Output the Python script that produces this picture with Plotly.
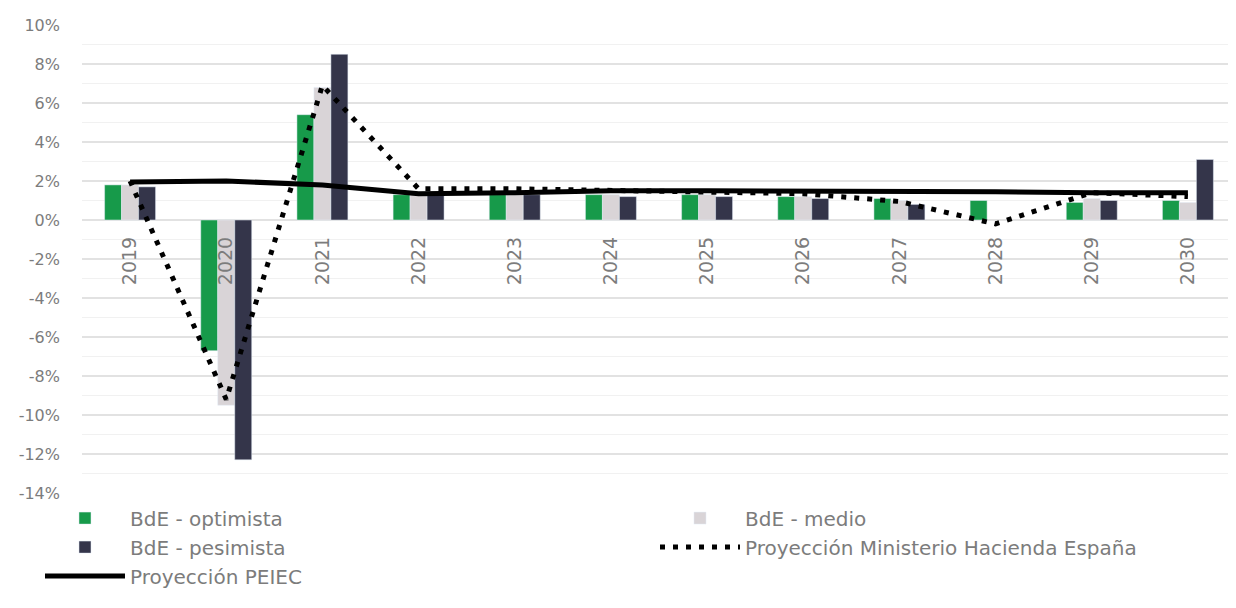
import plotly.graph_objects as go

years = ["2019", "2020", "2021", "2022", "2023", "2024", "2025", "2026", "2027", "2028", "2029", "2030"]
optimista = [1.8, -6.7, 5.4, 1.3, 1.3, 1.3, 1.3, 1.2, 1.1, 1.0, 0.9, 1.0]
medio = [1.8, -9.5, 6.8, 1.3, 1.3, 1.3, 1.3, 1.2, 1.0, None, 1.1, 0.9]
pesimista = [1.7, -12.3, 8.5, 1.3, 1.3, 1.2, 1.2, 1.1, 0.8, None, 1.0, 3.1]
ministerio = [2.0, -9.2, 6.9, 1.6, 1.6, 1.5, 1.4, 1.35, 0.95, -0.2, 1.4, 1.2]
peiec = [1.95, 2.0, 1.8, 1.35, 1.4, 1.5, 1.5, 1.5, 1.5, 1.45, 1.4, 1.4]
y_ticks = list(range(-14, 11, 2))

FONT = "DejaVu Sans"
TXT = "#7c7c7c"

fig = go.Figure()
fig.add_trace(go.Bar(x=years, y=optimista, name="BdE - optimista", marker_color="#179a4a", legendrank=1))
fig.add_trace(go.Bar(x=years, y=medio, name="BdE - medio", marker_color="#d9d4d7", legendrank=2))
fig.add_trace(go.Bar(x=years, y=pesimista, name="BdE - pesimista", marker_color="#34354a", legendrank=3))
fig.add_trace(go.Scatter(x=years, y=ministerio, mode="lines", name="Proyección Ministerio Hacienda España",
                         line=dict(color="black", width=5, dash="5px,8px"), legendrank=4))
fig.add_trace(go.Scatter(x=years, y=peiec, mode="lines", name="Proyección PEIEC",
                         line=dict(color="black", width=5), legendrank=5))

ymin, ymax = -14, 10
fig.update_layout(
    width=1228, height=600,
    margin=dict(l=74, r=0, t=17, b=115, autoexpand=False),
    paper_bgcolor="white", plot_bgcolor="white",
    barmode="group", bargap=0.47, bargroupgap=0,
    font=dict(family=FONT, color=TXT, size=16),
    showlegend=True,
    legend=dict(orientation="h", x=-0.0364, xanchor="left", y=-0.012, yanchor="top",
                entrywidth=520, itemwidth=80, traceorder="normal",
                font=dict(family=FONT, size=20, color=TXT)),
    xaxis=dict(type="category", anchor="free", position=(0 - ymin) / (ymax - ymin),
               tickangle=-90, showgrid=False, showline=False, zeroline=False,
               ticks="", ticklabelstandoff=12, tickfont=dict(family=FONT, size=19, color=TXT)),
    yaxis=dict(range=[ymin, ymax], tickvals=y_ticks, ticktext=[f"{v}%" for v in y_ticks],
               showgrid=True, gridcolor="#e2e2e2", gridwidth=1.5,
               zeroline=True, zerolinecolor="#e2e2e2", zerolinewidth=1.5,
               minor=dict(dtick=1, showgrid=True, gridcolor="#f1f1f1", gridwidth=1),
               ticks="", ticklabelstandoff=21, tickfont=dict(family=FONT, size=16, color=TXT)),
)

fig.write_html("out.html")
